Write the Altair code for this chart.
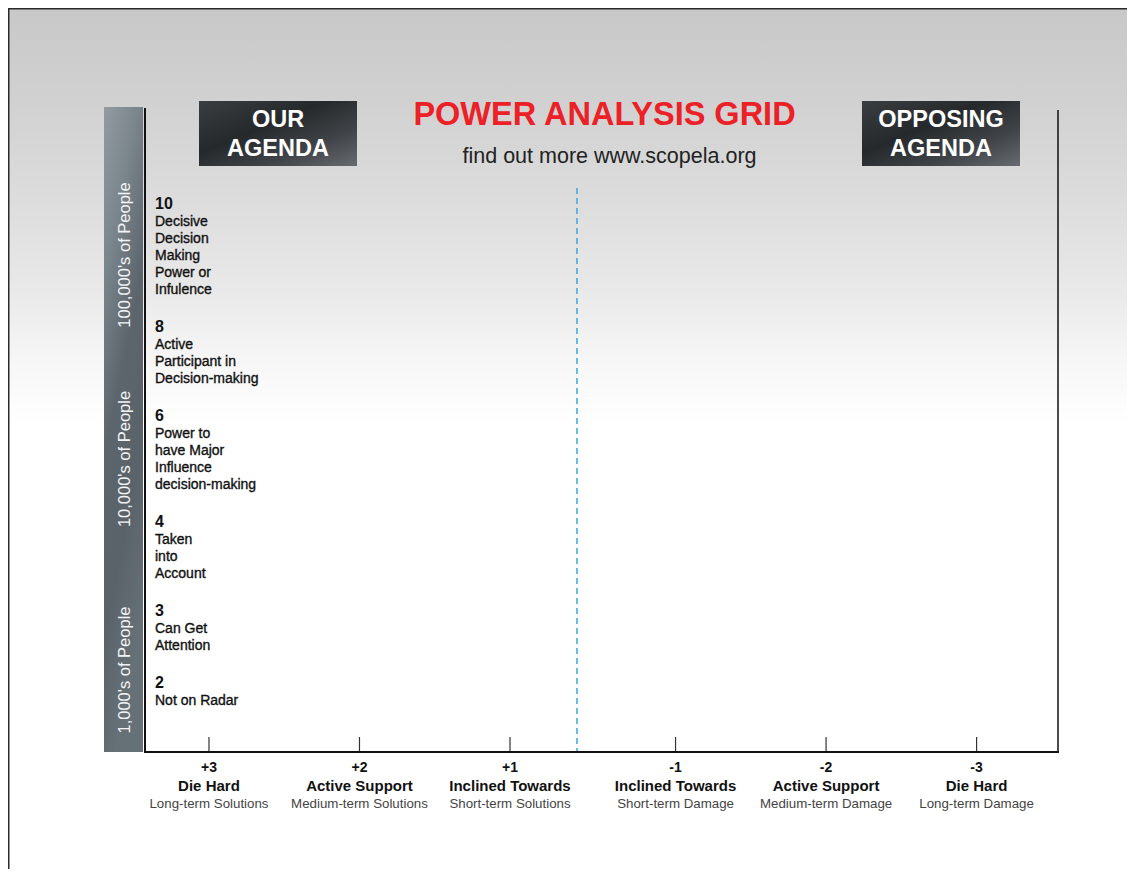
import altair as alt
import pandas as pd

# ---------------- data ----------------
TITLE = "POWER ANALYSIS GRID"
SUBTITLE = "find out more www.scopela.org"
LEFT_BOX = ["OUR", "AGENDA"]
RIGHT_BOX = ["OPPOSING", "AGENDA"]

STANCE_SCORES = ["+3", "+2", "+1", "-1", "-2", "-3"]
STANCE_NAMES = ["Die Hard", "Active Support", "Inclined Towards",
                "Inclined Towards", "Active Support", "Die Hard"]
STANCE_NOTES = ["Long-term Solutions", "Medium-term Solutions", "Short-term Solutions",
                "Short-term Damage", "Medium-term Damage", "Long-term Damage"]

POWER_LEVELS = ["10", "8", "6", "4", "3", "2"]
POWER_DESCS = [
    ["Decisive", "Decision", "Making", "Power or", "Infulence"],
    ["Active", "Participant in", "Decision-making"],
    ["Power to", "have Major", "Influence", "decision-making"],
    ["Taken", "into", "Account"],
    ["Can Get", "Attention"],
    ["Not on Radar"],
]
REACH_BANDS = ["100,000's of People", "10,000's of People", "1,000's of People"]

# ---------------- layout ----------------
W, H = 913, 644
FONT = "Liberation Sans"
MID_GAP = 0.1          # extra spacing between the two camps
DIVIDER = 2.445        # boundary between supporters and opponents
LINE_H, BLOCK_GAP, FIRST_BLOCK = 17, 38, 96
BAND_CENTERS = [147, 351, 562]

stance_pos = [i + (MID_GAP if i >= 3 else 0) for i in range(len(STANCE_SCORES))]
stance_df = pd.DataFrame({"pos": stance_pos, "score": STANCE_SCORES,
                          "name": STANCE_NAMES, "note": STANCE_NOTES})

offsets = []
cur = FIRST_BLOCK
for d in POWER_DESCS:
    offsets.append(cur)
    cur += len(d) * LINE_H + BLOCK_GAP
power_df = pd.DataFrame({"level": POWER_LEVELS,
                         "desc": ["\n".join(d) for d in POWER_DESCS],
                         "offset": offsets})
band_df = pd.DataFrame({"band": REACH_BANDS, "center": BAND_CENTERS})

one = pd.DataFrame({"k": [0]})

xs = alt.Scale(domain=[-0.425, 5.641], nice=False, zero=False)
ys = alt.Scale(domain=[0, H], reverse=True, nice=False, zero=False)

# ---------------- layers ----------------
bg = alt.Chart(one).mark_rect(
    fill=alt.Gradient(gradient="linear", x1=0, y1=0, x2=0, y2=1, stops=[
        alt.GradientStop(offset=0, color="#c8c8c8"),
        alt.GradientStop(offset=0.09, color="#d1d1d1"),
        alt.GradientStop(offset=0.18, color="#dcdcdc"),
        alt.GradientStop(offset=0.27, color="#e9e9e9"),
        alt.GradientStop(offset=0.34, color="#f7f7f7"),
        alt.GradientStop(offset=0.40, color="#ffffff"),
        alt.GradientStop(offset=1, color="#ffffff")]),
    stroke="#2a2a2a", strokeWidth=1.5
).encode(x=alt.value(-136.25), x2=alt.value(W + 200),
         y=alt.value(-99.25), y2=alt.value(H + 300))

bar = alt.Chart(one).mark_rect(
    fill=alt.Gradient(gradient="linear", x1=0, y1=0, x2=0.3, y2=1, stops=[
        alt.GradientStop(offset=0, color="#929ba2"),
        alt.GradientStop(offset=0.25, color="#7a848b"),
        alt.GradientStop(offset=0.5, color="#5c656c"),
        alt.GradientStop(offset=0.75, color="#5a6369"),
        alt.GradientStop(offset=1, color="#667077")])
).encode(x=alt.value(-41), x2=alt.value(-2), y=alt.value(-1), y2=alt.value(H))

band_text = alt.Chart(band_df).mark_text(
    angle=270, font=FONT, fontSize=16.5, color="#f2f4f5", align="center", baseline="middle"
).encode(x=alt.value(-20), y=alt.Y("center:Q", scale=ys, axis=None), text="band:N")

box_grad = alt.Gradient(gradient="linear", x1=0, y1=0, x2=1, y2=1, stops=[
    alt.GradientStop(offset=0, color="#3b3e41"),
    alt.GradientStop(offset=0.4, color="#26292c"),
    alt.GradientStop(offset=0.7, color="#3f4347"),
    alt.GradientStop(offset=1, color="#676b6f")])


def agenda_box(x0, x1, lines):
    cx = (x0 + x1) / 2
    rect = alt.Chart(one).mark_rect(fill=box_grad).encode(
        x=alt.value(x0), x2=alt.value(x1), y=alt.value(-7), y2=alt.value(58))
    t1 = alt.Chart(one).mark_text(
        text=lines[0], font=FONT, fontSize=23.5, fontWeight="bold", color="white",
        align="center", baseline="middle").encode(x=alt.value(cx), y=alt.value(12))
    t2 = alt.Chart(one).mark_text(
        text=lines[1], font=FONT, fontSize=23.5, fontWeight="bold", color="white",
        align="center", baseline="middle").encode(x=alt.value(cx), y=alt.value(41))
    return [rect, t1, t2]


title = alt.Chart(one).mark_text(
    text=TITLE, font=FONT, fontSize=32.5, fontWeight="bold", color="#ec2027",
    align="center", baseline="middle").encode(x=alt.value(459.5), y=alt.value(7))
subtitle = alt.Chart(one).mark_text(
    text=SUBTITLE, font=FONT, fontSize=21.5, color="#222222",
    align="center", baseline="middle").encode(x=alt.value(464.5), y=alt.value(49))

divider = alt.Chart(one).mark_rule(
    color="#3aa8dc", strokeWidth=1.5, strokeDash=[6, 4]
).encode(x=alt.X(datum=DIVIDER, type="quantitative", scale=xs, axis=None),
         y=alt.value(80), y2=alt.value(H))

ticks = alt.Chart(stance_df).mark_rule(color="#333333", strokeWidth=1.2).encode(
    x=alt.X("pos:Q", scale=xs, axis=None), y=alt.value(H - 15), y2=alt.value(H))

left_line = alt.Chart(one).mark_rule(color="#111111", strokeWidth=2).encode(
    x=alt.value(0), y=alt.value(0), y2=alt.value(H + 1))
right_line = alt.Chart(one).mark_rule(color="#111111", strokeWidth=1.5).encode(
    x=alt.value(W), y=alt.value(2), y2=alt.value(H + 1))
bottom_line = alt.Chart(one).mark_rule(color="#111111", strokeWidth=2).encode(
    x=alt.value(0), x2=alt.value(W + 0.75), y=alt.value(H))

score_t = alt.Chart(stance_df).mark_text(
    font=FONT, fontSize=14, fontWeight="bold", color="#111111", baseline="middle"
).encode(x=alt.X("pos:Q", scale=xs, axis=None), y=alt.value(H + 16), text="score:N")
name_t = alt.Chart(stance_df).mark_text(
    font=FONT, fontSize=15, fontWeight="bold", color="#111111", baseline="middle"
).encode(x=alt.X("pos:Q", scale=xs, axis=None), y=alt.value(H + 34), text="name:N")
note_t = alt.Chart(stance_df).mark_text(
    font=FONT, fontSize=13.3, color="#444444", baseline="middle"
).encode(x=alt.X("pos:Q", scale=xs, axis=None), y=alt.value(H + 52), text="note:N")

level_t = alt.Chart(power_df).mark_text(
    font=FONT, fontSize=16, fontWeight="bold", color="#111111", align="left", baseline="middle"
).encode(x=alt.value(10), y=alt.Y("offset:Q", scale=ys, axis=None), text="level:N")
desc_t = alt.Chart(power_df).mark_text(
    font=FONT, fontSize=14, color="#111111", stroke="#111111", strokeWidth=0.35,
    align="left", baseline="top", lineBreak="\n", lineHeight=LINE_H, dy=11
).encode(x=alt.value(10), y=alt.Y("offset:Q", scale=ys, axis=None), text="desc:N")

layers = [bg, bar, band_text] + agenda_box(54, 212, LEFT_BOX) + agenda_box(717, 875, RIGHT_BOX) + [
    title, subtitle, divider, ticks, left_line, right_line, bottom_line,
    score_t, name_t, note_t, level_t, desc_t]

chart = alt.layer(*layers).properties(
    width=W, height=H,
    padding={"left": 137, "top": 100, "right": 69, "bottom": 117},
    autosize=alt.AutoSizeParams(type="none"),
).configure_view(stroke=None)

chart.save("out.html", embed_options={"renderer": "svg", "actions": False})
